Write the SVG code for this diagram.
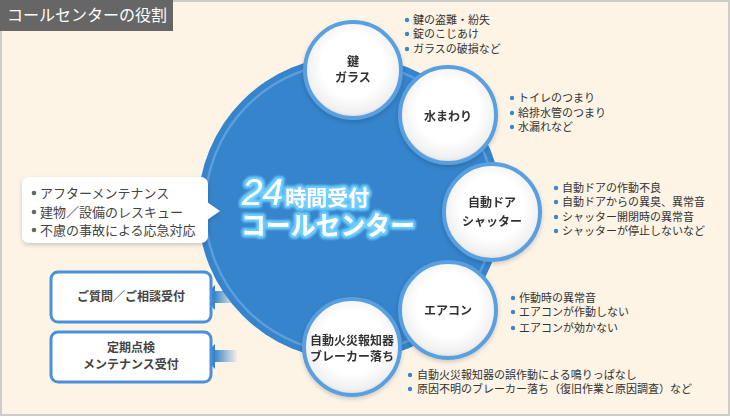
<svg xmlns="http://www.w3.org/2000/svg" width="730" height="417" viewBox="0 0 730 417">
<defs>
<style>
.jp{font-family:"Noto Sans CJK JP","Noto Sans",sans-serif;}
.lbl{font-family:"Noto Sans CJK JP",sans-serif;font-size:12px;font-weight:700;fill:#333;text-anchor:middle;}
.lst{font-family:"Noto Sans CJK JP",sans-serif;font-size:11px;fill:#333;}
.bul{fill:#3a86d4;}
.small{fill:url(#sg);stroke:#5a9fe0;stroke-width:4;}
.box{fill:#fff;stroke:#4a90d9;stroke-width:3;}
.btxt{font-family:"Noto Sans CJK JP",sans-serif;font-size:12px;font-weight:700;fill:#444;text-anchor:middle;}
</style>
<radialGradient id="sg" cx="0.5" cy="0.45" r="0.55">
<stop offset="0.6" stop-color="#ffffff"/>
<stop offset="0.9" stop-color="#f0f0f0"/>
<stop offset="1" stop-color="#d9d9d9"/>
</radialGradient>
<linearGradient id="ag" x1="0" y1="0" x2="1" y2="0">
<stop offset="0" stop-color="#3584cc"/>
<stop offset="1" stop-color="#3584cc" stop-opacity="0"/>
</linearGradient>
<filter id="glow" x="-10%" y="-30%" width="120%" height="160%">
<feMorphology in="SourceAlpha" operator="dilate" radius="1.5" result="d"/>
<feGaussianBlur in="d" stdDeviation="1.5" result="b"/>
<feFlood flood-color="#6fd0ff"/>
<feComposite in2="b" operator="in" result="g"/>
<feMerge><feMergeNode in="g"/><feMergeNode in="g"/><feMergeNode in="SourceGraphic"/></feMerge>
</filter>
<filter id="sh" x="-20%" y="-20%" width="140%" height="150%">
<feGaussianBlur in="SourceAlpha" stdDeviation="2"/>
<feOffset dx="0" dy="2" result="o"/>
<feFlood flood-color="#000" flood-opacity="0.18"/>
<feComposite in2="o" operator="in" result="s"/>
<feMerge><feMergeNode in="s"/><feMergeNode in="SourceGraphic"/></feMerge>
</filter>
</defs>

<rect x="1" y="1" width="728" height="414" fill="#fdf4e6" stroke="#cccccc" stroke-width="2"/>
<g id="title">
<rect x="0" y="0" width="173" height="31" fill="#666666"/>
<text x="7" y="21" class="jp" font-size="16" fill="#ffffff">コールセンターの役割</text>
</g>

<g id="connectors">
<rect x="214" y="291" width="22" height="12" fill="url(#ag)"/>
<polygon points="203,297 215,285 215,310" fill="#3584cc"/>
<rect x="214" y="350" width="24" height="12" fill="url(#ag)"/>
<polygon points="203,356 215,344 215,369" fill="#3584cc"/>
</g>

<g id="center">
<circle cx="350" cy="208" r="152" fill="#3584cc"/>
<circle cx="350" cy="208" r="145" fill="none" stroke="#5d9edb" stroke-width="2.5"/>
<g filter="url(#glow)" fill="#ffffff">
<text x="242" y="205"><tspan font-family="'Liberation Sans',sans-serif" font-size="37" font-style="italic">24</tspan><tspan dx="2" class="jp" font-size="21" font-weight="700">時間受付</tspan></text>
<text x="241" y="235" class="jp" font-size="26" font-weight="700" textLength="174" lengthAdjust="spacingAndGlyphs">コールセンター</text>
</g>
</g>

<g id="after" filter="url(#sh)">
<rect x="22" y="177" width="186" height="66" rx="7" fill="#ffffff"/>
<polygon points="207,202 220,211 207,220" fill="#ffffff"/>
</g>
<g id="after-text" class="jp" font-size="13" fill="#444">
<circle cx="34" cy="193" r="2.3" fill="#666"/>
<text x="40" y="197.5">アフターメンテナンス</text>
<circle cx="34" cy="212" r="2.3" fill="#666"/>
<text x="40" y="216.5">建物／設備のレスキュー</text>
<circle cx="34" cy="230" r="2.3" fill="#666"/>
<text x="40" y="234.5">不慮の事故による応急対応</text>
</g>

<g id="box-qa">
<rect x="51" y="272" width="160" height="50" rx="7" class="box"/>
<text x="131" y="301" class="btxt">ご質問／ご相談受付</text>
</g>
<g id="box-maint">
<rect x="51" y="332" width="160" height="50" rx="7" class="box"/>
<text x="131" y="352" class="btxt">定期点検</text>
<text x="131" y="369" class="btxt">メンテナンス受付</text>
</g>

<g id="key" filter="url(#sh)">
<circle cx="353" cy="70" r="48" class="small"/>
<text x="353" y="66" class="lbl">鍵</text>
<text x="353" y="82" class="lbl">ガラス</text>
</g>
<g id="water" filter="url(#sh)">
<circle cx="448" cy="115" r="48" class="small"/>
<text x="448" y="121" class="lbl">水まわり</text>
</g>
<g id="door" filter="url(#sh)">
<circle cx="492" cy="212" r="48" class="small"/>
<text x="492" y="207" class="lbl">自動ドア</text>
<text x="492" y="226" class="lbl">シャッター</text>
</g>
<g id="aircon" filter="url(#sh)">
<circle cx="448" cy="310" r="48" class="small"/>
<text x="448" y="315" class="lbl">エアコン</text>
</g>
<g id="fire" filter="url(#sh)">
<circle cx="352" cy="347" r="48" class="small"/>
<text x="352" y="345" class="lbl">自動火災報知器</text>
<text x="352" y="361" class="lbl">ブレーカー落ち</text>
</g>

<g id="list-key" class="lst">
<circle cx="407" cy="20" r="2.2" class="bul"/><text x="413" y="24">鍵の盗難・紛失</text>
<circle cx="407" cy="34" r="2.2" class="bul"/><text x="413" y="38">錠のこじあけ</text>
<circle cx="407" cy="49" r="2.2" class="bul"/><text x="413" y="53">ガラスの破損など</text>
</g>
<g id="list-water" class="lst">
<circle cx="512" cy="98" r="2.2" class="bul"/><text x="518" y="102">トイレのつまり</text>
<circle cx="512" cy="113" r="2.2" class="bul"/><text x="518" y="117">給排水管のつまり</text>
<circle cx="512" cy="127" r="2.2" class="bul"/><text x="518" y="131">水漏れなど</text>
</g>
<g id="list-door" class="lst">
<circle cx="556" cy="188" r="2.2" class="bul"/><text x="562" y="192">自動ドアの作動不良</text>
<circle cx="556" cy="202" r="2.2" class="bul"/><text x="562" y="206">自動ドアからの異臭、異常音</text>
<circle cx="556" cy="217" r="2.2" class="bul"/><text x="562" y="221">シャッター開閉時の異常音</text>
<circle cx="556" cy="231" r="2.2" class="bul"/><text x="562" y="235">シャッターが停止しないなど</text>
</g>
<g id="list-aircon" class="lst">
<circle cx="513" cy="298" r="2.2" class="bul"/><text x="519" y="302">作動時の異常音</text>
<circle cx="513" cy="312" r="2.2" class="bul"/><text x="519" y="316">エアコンが作動しない</text>
<circle cx="513" cy="328" r="2.2" class="bul"/><text x="519" y="332">エアコンが効かない</text>
</g>
<g id="list-fire" class="lst">
<circle cx="410" cy="375" r="2.2" class="bul"/><text x="417" y="379">自動火災報知器の誤作動による鳴りっぱなし</text>
<circle cx="410" cy="389" r="2.2" class="bul"/><text x="417" y="393">原因不明のブレーカー落ち（復旧作業と原因調査）など</text>
</g>
</svg>
